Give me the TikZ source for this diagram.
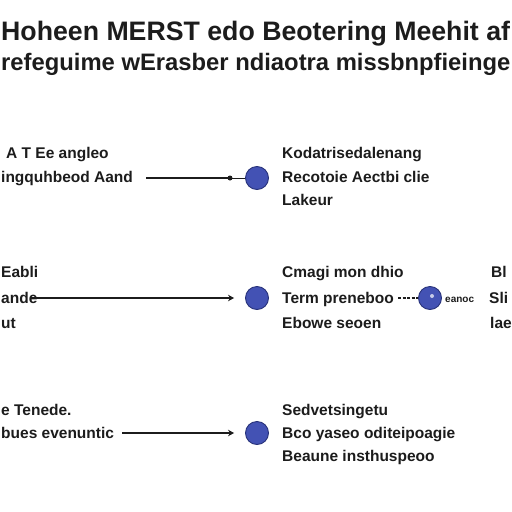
\documentclass[tikz,border=0pt]{standalone}
\usepackage{fontspec}
\setmainfont{Liberation Sans}
\usetikzlibrary{arrows.meta}
\definecolor{dotblue}{HTML}{4352B4}
\definecolor{dotedge}{HTML}{27327A}
\definecolor{inktxt}{HTML}{1C1C1C}
\tikzset{
  ttl/.style={anchor=base west, inner sep=0pt, text=inktxt, font=\bfseries\fontsize{26.7}{30}\selectfont},
  ttlb/.style={ttl, font=\bfseries\fontsize{23.8}{28}\selectfont},
  lbl/.style={anchor=base west, inner sep=0pt, text=inktxt, font=\bfseries\fontsize{15.5}{17}\selectfont},
  dot/.style={circle, draw=dotedge, line width=0.9pt, fill=dotblue, minimum size=23pt, inner sep=0pt},
  link/.style={line width=1.7pt, draw=inktxt},
  tip/.style={link, -{Stealth[length=6pt,width=6.5pt]}, shorten >=11pt}
}
\begin{document}
\begin{tikzpicture}[x=1pt,y=-1pt]
  %%%%% START %%%%%
  \useasboundingbox[fill=white] (0,0) rectangle (512,512);

  % heading
  \node[ttl] (h1) at (1,40) {Hoheen MERST edo Beotering Meehit af};
  \node[ttlb] (h2) at (1,70) {refeguime wErasber ndiaotra missbnpfieinge};

  % row one
  \node[lbl] (a1) at (6,158) {A T Ee angleo};
  \node[lbl] (a2) at (1,182) {ingquhbeod Aand};
  \node[dot] (c1) at (257,178) {};
  \coordinate (p1) at (146,178);
  \coordinate (d1) at (230,178);
  \draw[link] (p1) -- (d1);
  \fill[inktxt] (d1) circle (2.5);
  \draw[inktxt, line width=0.7pt] (d1) -- (c1);
  \node[lbl] (b1) at (282,158) {Kodatrisedalenang};
  \node[lbl] (b2) at (282,182) {Recotoie Aectbi clie};
  \node[lbl] (b3) at (282,205) {Lakeur};

  % row two
  \node[lbl] (e1) at (1,277) {Eabli};
  \node[lbl] (e2) at (1,303) {ande};
  \node[lbl] (e3) at (1,328) {ut};
  \node[dot] (c2) at (257,298) {};
  \coordinate (p2) at (30,298);
  \draw[tip] (p2) -- (c2);
  \node[lbl] (f1) at (282,277) {Cmagi mon dhio};
  \node[lbl] (f2) at (282,303) {Term preneboo};
  \node[lbl] (f3) at (282,328) {Ebowe seoen};
  \node[dot] (c3) at (430,298) {};
  \fill[white, opacity=0.7] (c3.center) ++(2,-2) circle (2);
  \draw[link, line width=2pt, dash pattern=on 3pt off 1.5pt] (f2.east |- c3) ++(4,0) -- (c3.west);
  \node[lbl, font=\bfseries\fontsize{10}{12}\selectfont] (g2) at (445,302) {eanoc};
  \node[lbl] (g1) at (491,277) {Bl};
  \node[lbl] (g3) at (489,303) {Sli};
  \node[lbl] (g4) at (490,328) {lae};

  % row three
  \node[lbl] (k1) at (1,415) {e Tenede.};
  \node[lbl] (k2) at (1,438) {bues evenuntic};
  \node[dot] (c4) at (257,433) {};
  \coordinate (p3) at (122,433);
  \draw[tip] (p3) -- (c4);
  \node[lbl] (m1) at (282,415) {Sedvetsingetu};
  \node[lbl] (m2) at (282,438) {Bco yaseo oditeipoagie};
  \node[lbl] (m3) at (282,461) {Beaune insthuspeoo};
  %%%%% END %%%%%
\end{tikzpicture}
\end{document}
